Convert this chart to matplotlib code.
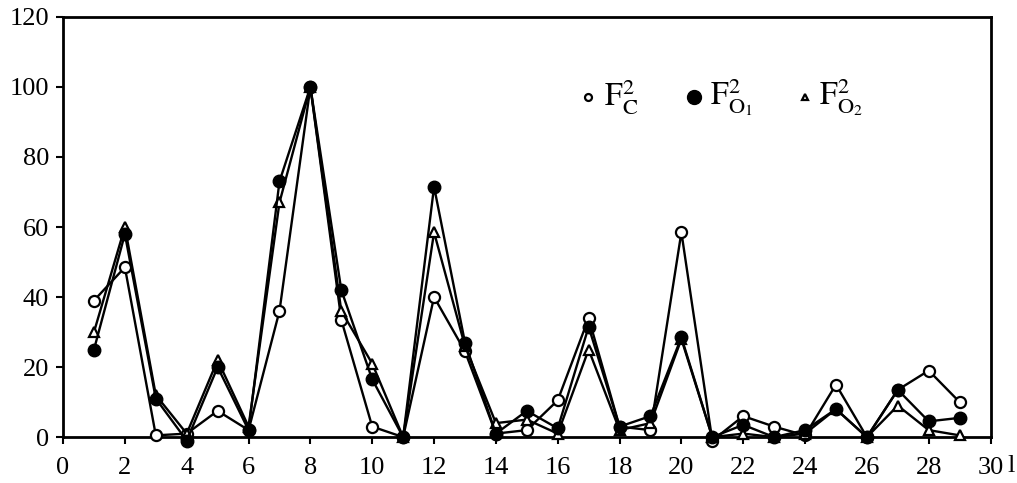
import matplotlib
matplotlib.use("Agg")
import matplotlib.pyplot as plt

# reflection index l and relative intensities (%)
l_index = list(range(1, 30))
f_calc = [39, 48.5, 0.5, 1, 7.5, 2, 36, 100, 33.5, 3, 0, 40, 24.5, 1, 2,
          10.5, 34, 3, 2, 58.5, -1, 6, 3, 0.5, 15, 0, 13.5, 19, 10]
f_obs1 = [25, 58, 11, -1, 20, 2, 73, 100, 42, 16.5, 0, 71.5, 27, 1, 7.5,
          2.5, 31.5, 3, 6, 28.5, 0, 3.5, 0, 2, 8, 0, 13.5, 4.5, 5.5]
f_obs2 = [30, 60, 12, 1, 22, 3, 67, 100, 36, 21, 0, 58.5, 26, 4, 5,
          1, 25, 2, 4, 28, 0, 1, 0, 1, 8, 0, 9, 2, 0.5]

x_ticks = list(range(0, 31, 2))
y_ticks = list(range(0, 121, 20))

plt.rcParams["font.family"] = ["Liberation Serif", "DejaVu Serif"]
plt.rcParams["mathtext.fontset"] = "stix"

fig = plt.figure(figsize=(10.17, 4.83), dpi=100)
ax = fig.add_axes([0.062, 0.095, 0.912, 0.87])

ax.plot(l_index, f_calc, "-", color="black", lw=1.7, marker="o", ms=8,
        mfc="white", mec="black", mew=1.6, clip_on=False, zorder=3)
ax.plot(l_index, f_obs2, "-", color="black", lw=1.7, marker="^", ms=7,
        mfc="white", mec="black", mew=1.6, clip_on=False, zorder=4)
ax.plot(l_index, f_obs1, "-", color="black", lw=1.7, marker="o", ms=9,
        mfc="black", mec="black", clip_on=False, zorder=5)

ax.set_xlim(0, 30)
ax.set_ylim(0, 120)
ax.set_xticks(x_ticks)
ax.set_yticks(y_ticks)
ax.tick_params(direction="out", length=5, width=1.5, labelsize=19, pad=5)
ax.tick_params(axis="x", pad=9)
for sp in ax.spines.values():
    sp.set_linewidth(2)

ax.text(1.018, -0.068, "l", transform=ax.transAxes, fontsize=19,
        ha="left", va="center")

# legend drawn inline at the top right
leg_y = 0.81
ax.plot([0.566], [leg_y], "o", ms=5, mfc="white", mec="black", mew=1.6,
        transform=ax.transAxes)
ax.text(0.583, leg_y, r"$\mathrm{F}^{2}_{\mathrm{C}}$", transform=ax.transAxes,
        fontsize=23, va="center")
ax.plot([0.680], [leg_y], "o", ms=10, mfc="black", mec="black",
        transform=ax.transAxes)
ax.text(0.697, leg_y, r"$\mathrm{F}^{2}_{\mathrm{O}_1}$", transform=ax.transAxes,
        fontsize=23, va="center")
ax.plot([0.800], [leg_y], "^", ms=5, mfc="white", mec="black", mew=1.6,
        transform=ax.transAxes)
ax.text(0.815, leg_y, r"$\mathrm{F}^{2}_{\mathrm{O}_2}$", transform=ax.transAxes,
        fontsize=23, va="center")

fig.savefig("out.png", dpi=100)
